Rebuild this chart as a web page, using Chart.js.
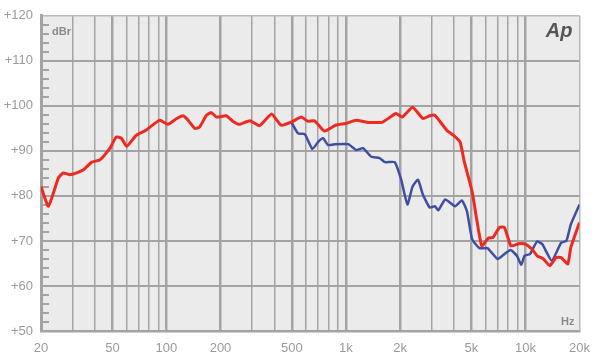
<!DOCTYPE html>
<html>
<head>
<meta charset="utf-8">
<script src="https://cdn.jsdelivr.net/npm/chart.js@4.4.0/dist/chart.umd.min.js"></script>
<style>
  html, body { margin: 0; background: #fff; }
  #wrap { width: 600px; height: 362px; }
</style>
</head>
<body>
<div id="wrap"><canvas id="chart"></canvas></div>
<script>
// ------------------------------------------------------------------
// Data
// ------------------------------------------------------------------

const redFreq = [20, 22, 25, 26.6, 29, 31.6, 34.5, 38.3, 42.6, 48.4, 52.6, 56.2, 60, 68, 77, 86, 92,
  102, 114, 124, 132, 144, 153, 167, 178, 190, 215, 234, 255, 292, 330, 385, 435, 496, 563, 613,
  668, 758, 875, 1000, 1138, 1340, 1600, 1894, 2060, 2350, 2680, 2930, 3130, 3640, 3960, 4320,
  4560, 5040, 5370, 5710, 6200, 6600, 7170, 7640, 8300, 9200, 10000, 10850, 11600, 12600, 13650,
  14800, 15800, 17200, 17900, 20000];
const redLevel = [82.1, 77.7, 84.0, 85.1, 84.7, 85.1, 85.8, 87.5, 88.0, 90.6, 93.1, 92.8, 91.0, 93.5,
  94.6, 96.1, 96.8, 95.9, 97.2, 97.8, 96.8, 95.0, 95.3, 97.9, 98.5, 97.5, 97.8, 96.6, 95.9, 96.7,
  95.6, 98.2, 95.7, 96.4, 97.5, 96.6, 96.7, 94.4, 95.7, 96.1, 96.8, 96.3, 96.4, 98.3, 97.5, 99.7,
  97.2, 97.8, 97.9, 94.6, 93.5, 92.0, 87.6, 81.0, 74.4, 68.9, 70.6, 70.8, 73.0, 73.0, 68.9, 69.4,
  69.3, 68.2, 66.7, 66.0, 64.5, 66.3, 66.3, 64.9, 68.6, 74.1];

// blue follows the red trace below ~500 Hz
const blueFreq = [496, 540, 590, 650, 700, 745, 795, 875, 1030, 1140, 1245, 1385, 1540, 1650, 1870,
  2030, 2200, 2350, 2520, 2680, 2930, 3130, 3270, 3570, 4060, 4420, 4720, 5040, 5550, 6140, 6980,
  7430, 8250, 8960, 9470, 9880, 10600, 11600, 12400, 14000, 15800, 16900, 17900, 20000];
const blueLevel = [96.4, 93.9, 93.7, 90.4, 92.0, 92.8, 91.3, 91.5, 91.5, 90.2, 90.6, 88.7, 88.4,
  87.5, 87.5, 83.6, 78.1, 82.1, 83.6, 80.3, 77.4, 77.7, 76.8, 79.2, 77.7, 79.0, 76.6, 70.4, 68.4,
  68.4, 66.0, 66.7, 68.0, 66.7, 64.7, 66.7, 67.1, 69.9, 69.3, 65.6, 69.6, 70.0, 73.7, 78.1];

const gridFreqs = [20, 30, 40, 50, 60, 70, 80, 90, 100, 200, 300, 400, 500, 600, 700, 800, 900,
  1000, 2000, 3000, 4000, 5000, 6000, 7000, 8000, 9000, 10000, 20000];
const labeledFreqs = [20, 50, 100, 200, 500, 1000, 2000, 5000, 10000, 20000];
const freqLabels = ["20", "50", "100", "200", "500", "1k", "2k", "5k", "10k", "20k"];

const yMin = 50;
const yMax = 120;

// ------------------------------------------------------------------
// Plot furniture: background, minor dB ticks, unit labels, logo
// ------------------------------------------------------------------

const GRID = "#a3a3a3";
const LABEL = "#9a9a9a";

const furniture = {
  id: "furniture",
  beforeDraw(chart) {
    const { ctx, chartArea: a } = chart;
    ctx.save();
    ctx.fillStyle = "#ebebeb";
    ctx.fillRect(a.left, a.top, a.right - a.left, a.bottom - a.top);
    ctx.restore();
  },
  beforeDatasetsDraw(chart) {
    const { ctx, chartArea: a, scales } = chart;
    ctx.save();
    ctx.strokeStyle = GRID;
    ctx.lineWidth = 2;
    for (let v = yMin + 2; v < yMax; v += 2) {
      if (v % 10 === 0) continue;
      const y = Math.round(scales.y.getPixelForValue(v));
      ctx.beginPath();
      ctx.moveTo(a.left, y);
      ctx.lineTo(a.left + 8, y);
      ctx.stroke();
    }
    ctx.fillStyle = "#8a8a8a";
    ctx.font = "bold 11px 'Liberation Sans', Arial, sans-serif";
    ctx.textBaseline = "alphabetic";
    ctx.textAlign = "left";
    ctx.fillText("dBr", a.left + 11, a.top + 19);
    ctx.textAlign = "right";
    ctx.fillText("Hz", a.right - 5, a.bottom - 6);
    ctx.fillStyle = "#555";
    ctx.font = "italic bold 20px 'Liberation Sans', Arial, sans-serif";
    ctx.fillText("Ap", a.right - 7, a.top + 21);
    ctx.restore();
  },
};

// ------------------------------------------------------------------
// Chart
// ------------------------------------------------------------------

const toPoints = (xs, ys) => xs.map((x, i) => ({ x, y: ys[i] }));

const ctx = document.getElementById("chart").getContext("2d");
new Chart(ctx, {
  type: "line",
  data: {
    datasets: [
      {
        label: "Red",
        data: toPoints(redFreq, redLevel),
        borderColor: "#ec2a22",
        borderWidth: 3,
        pointRadius: 0,
        tension: 0.15,
      },
      {
        label: "Blue",
        data: toPoints(blueFreq, blueLevel),
        borderColor: "#3f4ea3",
        borderWidth: 2.5,
        pointRadius: 0,
        tension: 0.15,
      },
    ],
  },
  options: {
    responsive: true,
    maintainAspectRatio: false,
    animation: false,
    layout: { padding: { top: 13, right: 20, left: 0, bottom: 0 } },
    plugins: {
      legend: { display: false },
      tooltip: { enabled: false },
    },
    scales: {
      x: {
        type: "logarithmic",
        min: 20,
        max: 20000,
        afterBuildTicks: (s) => { s.ticks = gridFreqs.map(v => ({ value: v })); },
        afterFit: (s) => { s.height = 31; },
        ticks: {
          autoSkip: false,
          maxRotation: 0,
          padding: 10,
          color: LABEL,
          font: { family: "'Liberation Sans', Arial, sans-serif", size: 13 },
          callback: (v) => {
            const i = labeledFreqs.indexOf(v);
            return i >= 0 ? freqLabels[i] : "";
          },
        },
        grid: {
          drawTicks: false,
          color: (c) => c.tick && c.tick.value === 20000 ? "#b8b8b8" : GRID,
          lineWidth: (c) => {
            const v = c.tick ? c.tick.value : 0;
            if (v === 20000) return 1.5;
            return labeledFreqs.includes(v) ? 2.5 : 1.5;
          },
        },
        border: { display: true, color: GRID, width: 2.5 },
      },
      y: {
        min: yMin,
        max: yMax,
        afterFit: (s) => { s.width = 41; },
        ticks: {
          stepSize: 10,
          padding: 8,
          color: LABEL,
          font: { family: "'Liberation Sans', Arial, sans-serif", size: 13 },
          callback: (v) => "+" + v,
        },
        grid: {
          drawTicks: false,
          color: (c) => c.tick && c.tick.value === yMax ? "#b8b8b8" : GRID,
          lineWidth: (c) => c.tick && c.tick.value === yMax ? 1.5 : 2,
        },
        border: { display: true, color: GRID, width: 3 },
      },
    },
  },
  plugins: [furniture],
});
</script>
</body>
</html>
